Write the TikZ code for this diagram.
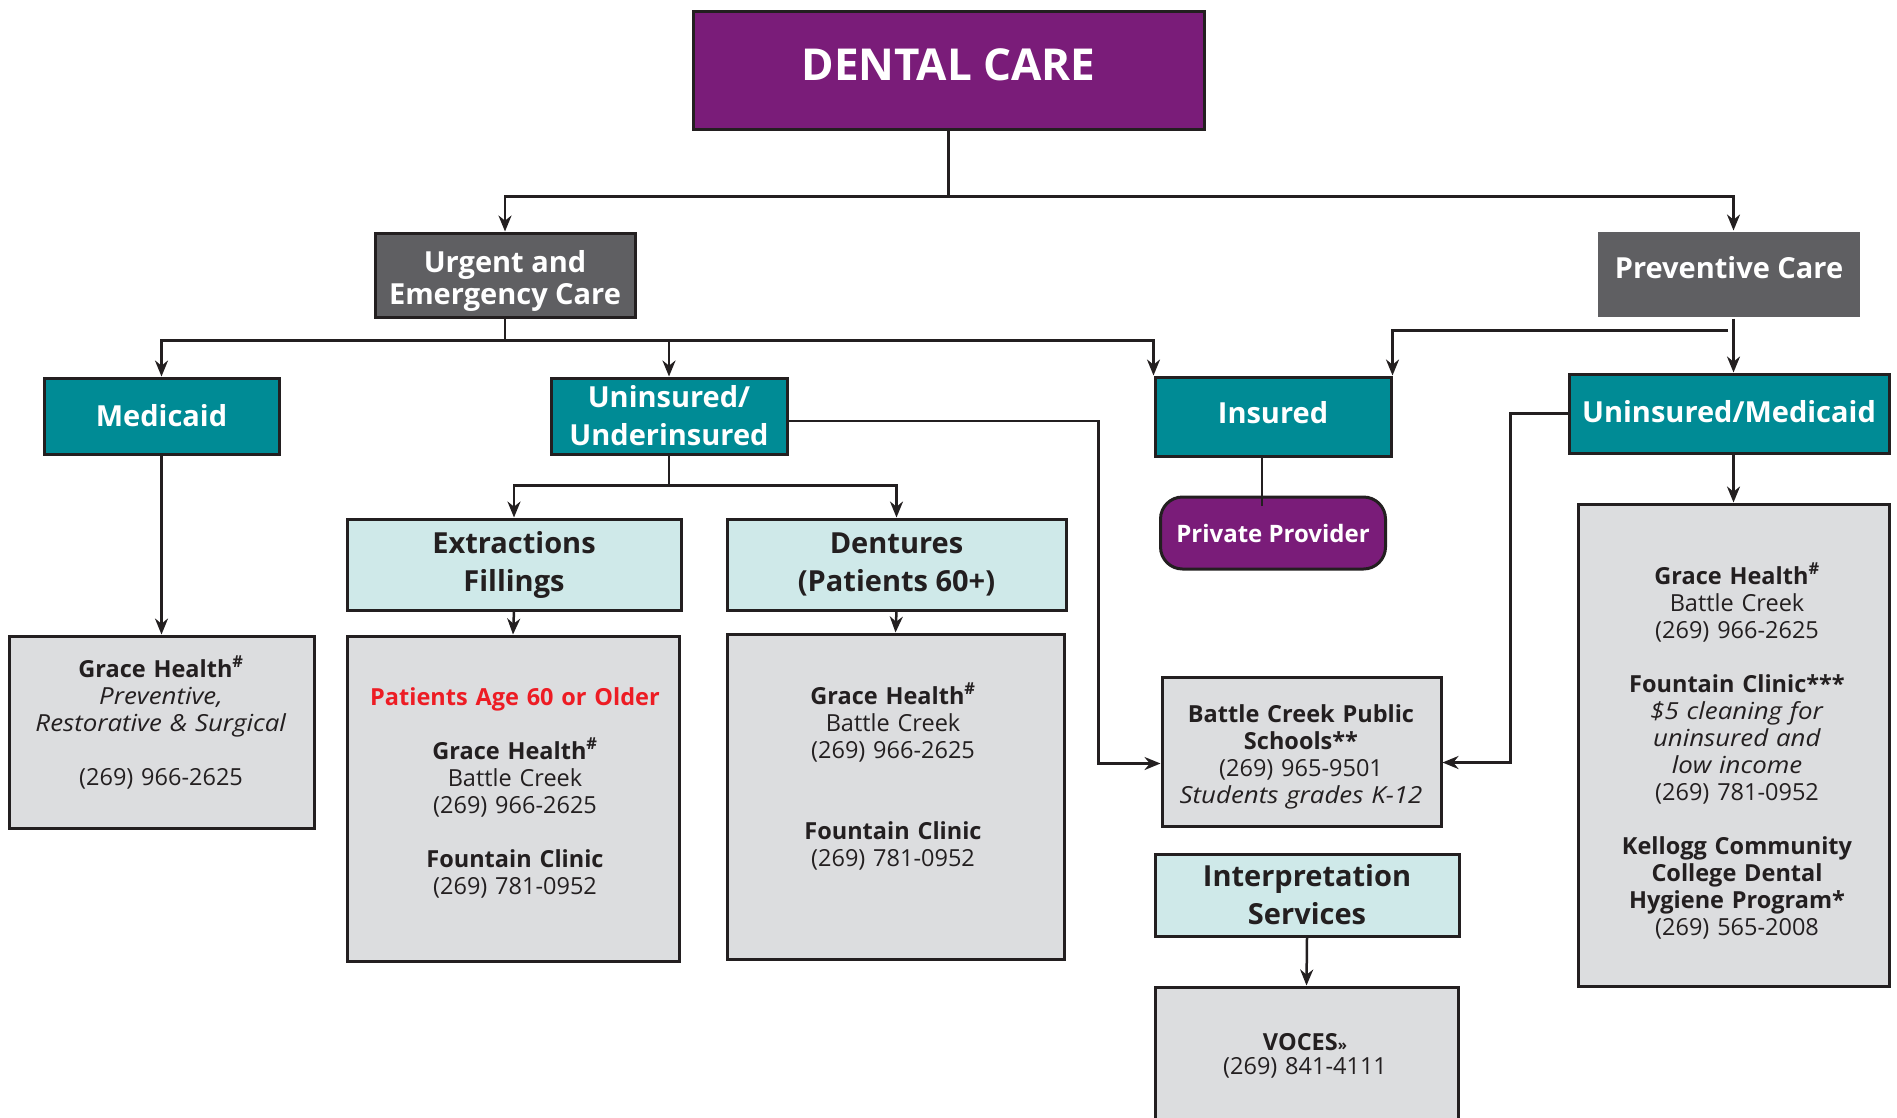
\documentclass[tikz,border=0pt]{standalone}
\usepackage{fontspec}
\setmainfont{Open Sans}[ItalicFeatures={FakeStretch=1.1}]
\usetikzlibrary{calc,positioning,arrows.meta,shapes}
\definecolor{plum}{RGB}{122,28,121}
\definecolor{sea}{RGB}{0,139,149}
\definecolor{slate}{RGB}{95,95,98}
\definecolor{aqua}{RGB}{207,233,233}
\definecolor{panel}{RGB}{220,221,223}
\definecolor{ink}{RGB}{35,31,32}
\definecolor{alert}{RGB}{237,28,36}
\newcommand{\hdrfont}{\bfseries\fontsize{29}{38}\selectfont}
\newcommand{\entryfont}{\fontsize{23.5}{27}\selectfont}
\newcommand{\gh}{\textbf{Grace Health}\textsuperscript{\textbf{\#}}}
\tikzset{
>={Stealth[length=16pt,width=13pt]},
  boxed/.style={
    rectangle,
    draw=ink, line width=3pt,
    inner sep=0pt,
    align=center},
  title/.style={boxed, fill=plum, text=white,
    font=\bfseries\fontsize{44}{50}\selectfont},
  branch/.style={boxed, fill=slate, text=white, font=\hdrfont},
  group/.style={boxed, fill=sea, text=white, font=\hdrfont},
  service/.style={boxed, fill=aqua, text=ink, font=\hdrfont},
  listing/.style={boxed, fill=panel},
  provider/.style={boxed, fill=plum, text=white, rounded corners=22pt,
    font=\bfseries\fontsize{24}{28}\selectfont},
  entry/.style={text=ink, text width=330pt, align=center,
    anchor=base, inner sep=0pt, font=\entryfont},
  link/.style={draw=ink, line width=2.5pt},
  feed/.style={link, ->},
}

\begin{document}
\begin{tikzpicture}[x=1pt, y=-1pt]
  \useasboundingbox[fill=white] (0,0) rectangle (1897,1117);
  % top levels
  \node[title, minimum width=511pt, minimum height=118pt, text depth=10pt] (root) at (948.5,70) {DENTAL CARE};
  \node[branch, minimum width=260pt, minimum height=84pt,
    font=\bfseries\fontsize{29}{32}\selectfont] (urgent) at (505,275)
    {\rule{0pt}{34pt}Urgent and\\Emergency Care};
  \node[branch, draw=none, minimum width=262pt, minimum height=85pt, text depth=14pt] (prev) at (1729,274.5) {Preventive Care};
  % coverage
  \node[group, minimum width=235pt, minimum height=76pt] (medicaid) at (161.5,416) {Medicaid};
  \node[group, minimum width=236pt, minimum height=76pt] (uninsured) at (669,416) {Uninsured/\\Underinsured};
  \node[group, minimum width=236pt, minimum height=79pt, text depth=8pt] (insured) at (1273,416.5) {Insured};
  \node[group, minimum width=320pt, minimum height=79pt, text depth=4pt] (unmed) at (1729,413.5) {Uninsured/Medicaid};
  \node[provider, minimum width=225pt, minimum height=72pt] (private) at (1273,533) {Private Provider};
  % services
  \node[service, minimum width=334pt, minimum height=91pt] (extract) at (514,564.5) {Extractions\\Fillings};
  \node[service, minimum width=339pt, minimum height=91pt] (denture) at (896.5,564.5) {Dentures\\(Patients 60+)};
  \node[service, minimum width=304pt, minimum height=82pt] (interp) at (1307,895) {Interpretation\\Services};
  % listings
  \node[listing, minimum width=305pt, minimum height=192pt] (medbox) at (161.5,732) {};
  \node[listing, minimum width=332pt, minimum height=325pt] (extbox) at (513,798.5) {};
  \node[listing, minimum width=337pt, minimum height=325pt] (denbox) at (895.5,796.5) {};
  \node[listing, minimum width=279pt, minimum height=149pt] (schools) at (1301.5,751.5) {};
  \node[listing, minimum width=303pt, minimum height=200pt] (voces) at (1306.5,1087) {};
  \node[listing, minimum width=311pt, minimum height=482pt] (prevbox) at (1733.5,745) {};

  \node[entry] (medtxt) at (161,677) {\gh\\\textit{Preventive,}\\\textit{Restorative \& Surgical}\\[27pt](269) 966-2625};
  \node[entry] (exttxt) at (515,705) {\textcolor{alert}{\textbf{Patients Age 60 or Older}}\\[27pt]\gh\\Battle Creek\\(269) 966-2625\\[27pt]\textbf{Fountain Clinic}\\(269) 781-0952};
  \node[entry] (dentxt) at (893,704) {\gh\\Battle Creek\\(269) 966-2625\\[54pt]\textbf{Fountain Clinic}\\(269) 781-0952};
  \node[entry] (schtxt) at (1301,722.5) {\textbf{Battle Creek Public}\\\textbf{Schools**}\\(269) 965-9501\\\textit{Students grades K-12}};
  \node[entry, font=\fontsize{23.5}{24}\selectfont] (voctxt) at (1305,1050) {\textbf{VOCES{\fontsize{15}{15}\selectfont»}}\\(269) 841-4111};
  \node[entry] (prevtxt) at (1737,584) {\gh\\Battle Creek\\(269) 966-2625\\[27pt]\textbf{Fountain Clinic***}\\\textit{\$5 cleaning for}\\\textit{uninsured and}\\\textit{low income}\\(269) 781-0952\\[27pt]\textbf{Kellogg Community}\\\textbf{College Dental}\\\textbf{Hygiene Program*}\\(269) 565-2008};

  % connectors
  \draw[link] (root.south) -- ++(0,66) coordinate (rootjoin);
  \draw[feed] (rootjoin) -| (prevbox.north |- prev.north);
  \draw[feed] (rootjoin) -| (urgent.north);
  \draw[link] (urgent.south) -- ++(0,22) coordinate (urgjoin);
  \draw[feed] (urgjoin) -| (medicaid.north);
  \draw[feed] (urgjoin) -| (uninsured.north);
  \draw[feed] (urgjoin) -| (insured.north west);
  \draw[feed] (prevbox.north |- prev.south) -- (prevbox.north |- unmed.north);
  \draw[feed] ($(prev.south)+(-1,12)$) -| (insured.north east);
  \draw[link] ([xshift=-11pt]insured.south) -- ([xshift=-11pt,yshift=-10pt]private.north);
  \draw[feed] (prevbox.north |- unmed.south) -- (prevbox.north);
  \draw[feed] (unmed.west) -- ++(-57,0) |- ([yshift=-11pt]schools.east);
  \draw[feed] ([yshift=-5pt]uninsured.east) -- ++(310,0) |- ([yshift=-12pt]schools.west);
  \draw[link] (uninsured.south) -- ++(0,30) coordinate (unjoin);
  \draw[feed] (unjoin) -| (extract.north);
  \draw[feed] (unjoin) -| (denture.north);
  \draw[feed] (medicaid.south) -- (medbox.north);
  \draw[feed] (extract.south) -- (extbox.north);
  \draw[feed] (denture.south) -- (denbox.north);
  \draw[feed] (interp.south) -- (voces.north);
\end{tikzpicture}
\end{document}
